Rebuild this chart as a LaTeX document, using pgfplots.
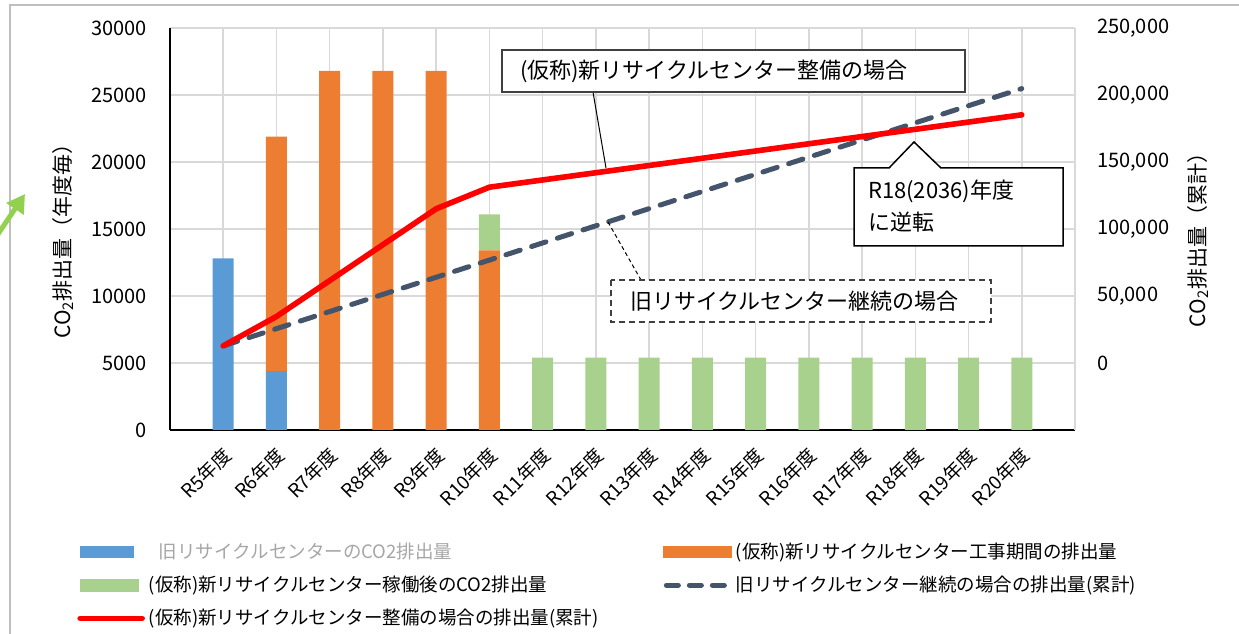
\documentclass[border=0pt]{standalone}
\usepackage{pgfplots}
\pgfplotsset{compat=1.18}
\usepackage{fontspec}
\setmainfont{Noto Sans CJK JP}
\usetikzlibrary{arrows.meta}

\definecolor{cblue}{HTML}{5B9BD5}
\definecolor{corange}{HTML}{ED7D31}
\definecolor{cgreen}{HTML}{A9D18E}
\definecolor{cred}{HTML}{FF0000}
\definecolor{cslate}{HTML}{44546A}
\definecolor{cgrid}{HTML}{D9D9D9}
\definecolor{cframe}{HTML}{BFBFBF}
\definecolor{carrow}{HTML}{92D050}
\definecolor{cgraytext}{HTML}{A6A6A6}

\newcommand{\tickfont}{\fontsize{10}{12}\selectfont}
\newcommand{\catfont}{\fontsize{9.5}{11}\selectfont}
\newcommand{\annfont}{\fontsize{11}{13}\selectfont}
\newcommand{\labfont}{\fontsize{10.5}{12}\selectfont}
\newcommand{\legfont}{\fontsize{9.25}{11}\selectfont}

\begin{document}
\begin{tikzpicture}
\useasboundingbox (0,0) rectangle (619.5pt,316.5pt);

% bars, left axis (per year)
\begin{axis}[
  at={(85pt,101.5pt)}, anchor=south west,
  scale only axis, width=452.5pt, height=201pt,
  xmin=-1, xmax=16, ymin=0, ymax=30000,
  ybar stacked, bar width=10.5pt,
  xtick={0,...,15},
  xticklabels={R5年度,R6年度,R7年度,R8年度,R9年度,R10年度,R11年度,R12年度,R13年度,R14年度,R15年度,R16年度,R17年度,R18年度,R19年度,R20年度},
  xticklabel style={xshift=3pt, rotate=45, anchor=east, font=\catfont, inner sep=1pt},
  xticklabel shift=10pt,
  ytick={0,5000,10000,15000,20000,25000,30000},
  scaled y ticks=false,
  yticklabel style={font=\tickfont, /pgf/number format/assume math mode=true, /pgf/number format/1000 sep={}},
  yticklabel shift=8pt,
  major tick length=0pt,
  xmajorgrids, ymajorgrids,
  grid style={cgrid, line width=0.75pt},
  axis x line*=bottom, axis y line*=left,
  axis line style={-, black, line width=0.75pt},
  every axis y label/.style={at={(axis description cs:-0.118,0.483)}, rotate=90, anchor=center, font=\labfont},
  ylabel={CO\textsubscript{2}排出量（年度毎）},
]
% old centre
\addplot[fill=cblue, draw=none] coordinates {
  (0,12800) (1,4400) (2,0) (3,0) (4,0) (5,0) (6,0) (7,0)
  (8,0) (9,0) (10,0) (11,0) (12,0) (13,0) (14,0) (15,0)};
% construction period
\addplot[fill=corange, draw=none] coordinates {
  (0,0) (1,17500) (2,26800) (3,26800) (4,26800) (5,13400) (6,0) (7,0)
  (8,0) (9,0) (10,0) (11,0) (12,0) (13,0) (14,0) (15,0)};
% new centre in operation
\addplot[fill=cgreen, draw=none] coordinates {
  (0,0) (1,0) (2,0) (3,0) (4,0) (5,2700) (6,5400) (7,5400)
  (8,5400) (9,5400) (10,5400) (11,5400) (12,5400) (13,5400) (14,5400) (15,5400)};
\end{axis}

% cumulative lines, right axis
\begin{axis}[
  at={(85pt,101.5pt)}, anchor=south west,
  scale only axis, width=452.5pt, height=201pt,
  xmin=-1, xmax=16, ymin=-50000, ymax=250000,
  axis x line=none, axis y line*=right,
  y axis line style={-, cgrid, line width=0.75pt},
  ytick={0,50000,100000,150000,200000,250000},
  scaled y ticks=false,
  yticklabel style={font=\tickfont, /pgf/number format/assume math mode=true, /pgf/number format/fixed, /pgf/number format/1000 sep={,}},
  yticklabel shift=7.5pt,
  major tick length=0pt,
  every axis y label/.style={at={(axis description cs:1.136,0.485)}, rotate=90, anchor=center, font=\labfont},
  ylabel={CO\textsubscript{2}排出量（累計）},
  legend columns=2,
  legend cell align=left,
  legend style={at={(-0.1028,-0.27)}, anchor=north west, draw=none, fill=none,
    inner sep=0pt, font=\legfont, row sep=3.25pt,
    /tikz/every even column/.append style={column sep=0pt}},
]
\addlegendimage{legend image code/.code={\fill[cblue] (0pt,-2.75pt) rectangle (26.5pt,2.75pt);}}
\addlegendentry{\makebox[255pt][l]{\hspace*{5pt}\textcolor{cgraytext}{旧リサイクルセンターのCO2排出量}}}
\addlegendimage{legend image code/.code={\fill[corange] (0pt,-2.75pt) rectangle (34pt,2.75pt);}}
\addlegendentry{(仮称)新リサイクルセンター工事期間の排出量}
\addlegendimage{legend image code/.code={\fill[cgreen] (0pt,-3pt) rectangle (29pt,3pt);}}
\addlegendentry{\makebox[255pt][l]{(仮称)新リサイクルセンター稼働後のCO2排出量}}

\addplot[cslate, line width=2.5pt, dash pattern=on 7.5pt off 6pt, line cap=round,
  legend image code/.code={\draw[cslate, line width=2.5pt, dash pattern=on 6pt off 5.5pt, line cap=round] (1.5pt,0pt) -- (33pt,0pt);}]
  coordinates {
  (0,12800) (1,25600) (2,38400) (3,51200) (4,64000) (5,76800) (6,89600) (7,102400)
  (8,115200) (9,128000) (10,140800) (11,153600) (12,166400) (13,179200) (14,192000) (15,204800)};
\addlegendentry{旧リサイクルセンター継続の場合の排出量(累計)}

\addplot[cred, line width=2.8pt, line join=round, line cap=round,
  legend image code/.code={\draw[cred, line width=2.8pt, line cap=round] (0pt,0pt) -- (31pt,0pt);}]
  coordinates {
  (0,12800) (1,34700) (2,61500) (3,88300) (4,115100) (5,131200) (6,136600) (7,142000)
  (8,147400) (9,152800) (10,158200) (11,163600) (12,169000) (13,174400) (14,179800) (15,185200)};
\addlegendentry{\makebox[255pt][l]{(仮称)新リサイクルセンター整備の場合の排出量(累計)}}
\end{axis}

% annotations, in pixel coordinates of the reference
\begin{scope}[x=0.5pt, y=-0.5pt, yshift=316.5pt]
\draw[cframe, line width=1pt] (10,650) -- (10,5) -- (1250,5);
\draw[carrow, line width=2.5pt, -{Triangle[length=9pt, width=10pt]}] (-6,240) -- (25,194);

\draw[black, line width=0.5pt] (593,92) -- (606,168);
\draw[fill=white, draw=black!75, line width=0.75pt] (502,50) rectangle (965,92);
\node[anchor=west, font=\annfont] at (513,71) {(仮称)新リサイクルセンター整備の場合};

\draw[black, line width=0.5pt, dash pattern=on 2pt off 1.5pt] (608,222) -- (641,280);
\draw[fill=white, draw=black!75, line width=0.6pt, dash pattern=on 3pt off 2pt] (611,280) rectangle (991,322);
\node[anchor=west, font=\annfont] at (623,301) {旧リサイクルセンター継続の場合};

\draw[fill=white, draw=black, line width=0.75pt] (854,168) -- (889,168) -- (914,142) -- (941,168)
  -- (1063,168) -- (1063,246) -- (854,246) -- cycle;
\node[anchor=west, font=\annfont] at (861,191) {R18(2036)年度};
\node[anchor=west, font=\annfont] at (861,222) {に逆転};
\end{scope}
\end{tikzpicture}
\end{document}
